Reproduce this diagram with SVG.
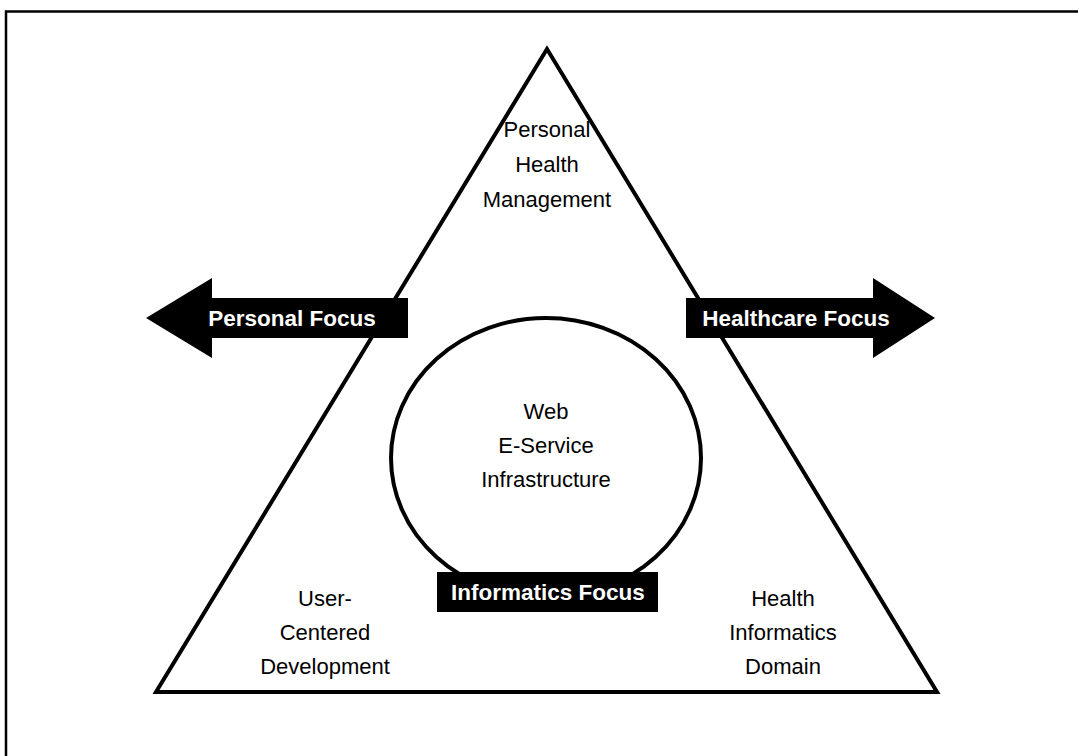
<svg xmlns="http://www.w3.org/2000/svg" width="1078" height="756" viewBox="0 0 1078 756">
  <style>
    .frame { fill: none; stroke: #000; stroke-width: 2.5; }
    .shape { fill: none; stroke: #000; stroke-width: 4; stroke-linejoin: miter; }
    .label { font-family: "Liberation Sans", Arial, sans-serif; font-size: 22px; fill: #000; text-anchor: middle; }
    .tag { font-family: "Liberation Sans", Arial, sans-serif; font-size: 22.5px; font-weight: bold; fill: #fff; text-anchor: middle; }
    .solid { fill: #000; stroke: none; }
  </style>
  <rect width="1078" height="756" fill="#fff"/>
  <!-- page frame (only top and left edges fall inside the view) -->
  <path class="frame" d="M6,756 V11.5 H1078"/>

  <g id="triangle">
    <polygon class="shape" points="547,49 156,692 937,692"/>
  </g>

  <g id="core">
    <ellipse class="shape" cx="546" cy="458" rx="155" ry="140"/>
    <text class="label" x="546" y="419">Web</text>
    <text class="label" x="546" y="453">E-Service</text>
    <text class="label" x="546" y="487">Infrastructure</text>
  </g>

  <g id="personal-health">
    <text class="label" x="547" y="137">Personal</text>
    <text class="label" x="547" y="172">Health</text>
    <text class="label" x="547" y="207">Management</text>
  </g>

  <g id="user-centered">
    <text class="label" x="325" y="606">User-</text>
    <text class="label" x="325" y="640">Centered</text>
    <text class="label" x="325" y="674">Development</text>
  </g>

  <g id="health-informatics">
    <text class="label" x="783" y="606">Health</text>
    <text class="label" x="783" y="640">Informatics</text>
    <text class="label" x="783" y="674">Domain</text>
  </g>

  <g id="connectors">
    <g id="personal-focus">
      <polygon class="solid" points="146,318 212,278 212,298 408,298 408,338 212,338 212,358"/>
      <text class="tag" x="292" y="326">Personal Focus</text>
    </g>
    <g id="healthcare-focus">
      <polygon class="solid" points="935,318 873,278 873,298 686,298 686,338 873,338 873,358"/>
      <text class="tag" x="796" y="326">Healthcare Focus</text>
    </g>
  </g>

  <g id="informatics-focus">
    <rect class="solid" x="437" y="572" width="221" height="40"/>
    <text class="tag" x="548" y="600">Informatics Focus</text>
  </g>
</svg>
